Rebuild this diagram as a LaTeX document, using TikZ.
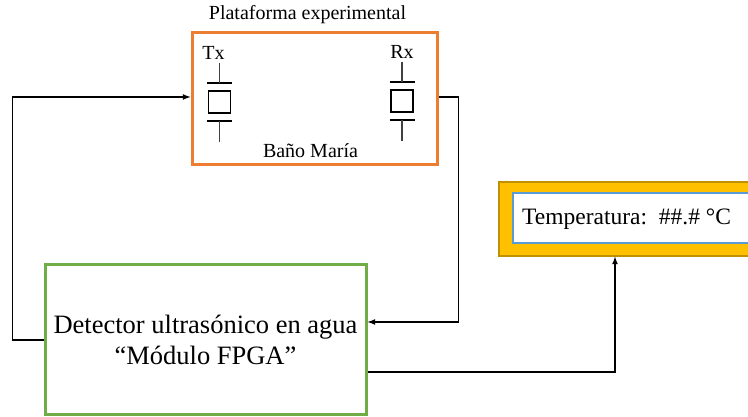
\documentclass[tikz,border=0pt]{standalone}
\usepackage{fontspec}
\setmainfont{Liberation Serif}
\usetikzlibrary{positioning}
\definecolor{naranja}{HTML}{ED7D31}
\definecolor{verde}{HTML}{70AD47}
\definecolor{oro}{HTML}{FFC000}
\definecolor{orooscuro}{HTML}{BF9000}
\definecolor{azul}{HTML}{5B9BD5}

\begin{document}
\begin{tikzpicture}[x=1pt, y=1pt, >=latex,
  plataforma/.style = {draw=naranja, line width=3pt, minimum width=245pt, minimum height=132pt},
  modulo/.style = {draw=verde, line width=3pt, minimum width=321pt, minimum height=150pt, align=center, font=\fontsize{26.5}{30.5}\selectfont},
  pantalla/.style = {draw=orooscuro, fill=oro, line width=1.2pt, minimum width=261pt, minimum height=74pt},
  visor/.style = {draw=azul, fill=white, line width=2pt, minimum width=262pt, minimum height=50pt},
  cuarzo/.style = {draw, line width=1.6pt, minimum size=22pt, inner sep=0pt},
  placa/.style = {line width=1.8pt},
  patita/.style = {line width=1.1pt, black!75},
  etiqueta/.style = {font=\fontsize{20}{24}\selectfont, inner sep=0pt},
  flecha/.style = {->, line width=1.6pt}]
\useasboundingbox (0,0) rectangle (748,417);

% plataforma experimental
\node[plataforma] (plat) at (314.5,318) {};
\node[etiqueta] (titulo) [above of=plat, node distance=84pt, xshift=-7pt] {Plataforma experimental};
\node[etiqueta] (bano) [below of=plat, node distance=52pt, xshift=-4pt] {Baño María};

% transductores
\node[cuarzo] (tx) at (219.5,315) {};
\node[cuarzo] (rx) at (402,316) {};
\node[etiqueta] (txl) [above of=tx, node distance=49pt, xshift=-6pt] {Tx};
\node[etiqueta] (rxl) [above of=rx, node distance=49pt] {Rx};
\draw[placa] ([shift={(-12.5pt,19pt)}]tx.center) -- ++(25,0);
\draw[placa] ([shift={(-12.5pt,-19pt)}]tx.center) -- ++(25,0);
\draw[patita] ([yshift=19pt]tx.center) -- ++(0,20);
\draw[patita] ([yshift=-19pt]tx.center) -- ++(0,-21);
\draw[placa] ([shift={(-12.5pt,19pt)}]rx.center) -- ++(25,0);
\draw[placa] ([shift={(-12.5pt,-19pt)}]rx.center) -- ++(25,0);
\draw[patita] ([yshift=19pt]rx.center) -- ++(0,20);
\draw[patita] ([yshift=-19pt]rx.center) -- ++(0,-21);

% detector
\node[modulo] (fpga) at (205.5,77) {Detector ultrasónico en agua\\“Módulo FPGA”};

% pantalla de temperatura
\node[pantalla] (lcd) at (629.5,198) {};
\node[visor] (vis) at (644,199) {};
\node[anchor=west, inner sep=0pt, font=\fontsize{23.5}{27}\selectfont] (temp) at (522,198) {Temperatura:\ \ \#\#.\# °C};

% conexiones
\draw[flecha] (fpga.west) -- ++(-31,0) |- ([yshift=2pt]plat.west);
\draw[flecha] ([yshift=2pt]plat.east) -- ++(20,0) |- ([yshift=18pt]fpga.east);
\draw[flecha] ([yshift=-32pt]fpga.east) -| ([xshift=-14.5pt]lcd.south);
\end{tikzpicture}
\end{document}
